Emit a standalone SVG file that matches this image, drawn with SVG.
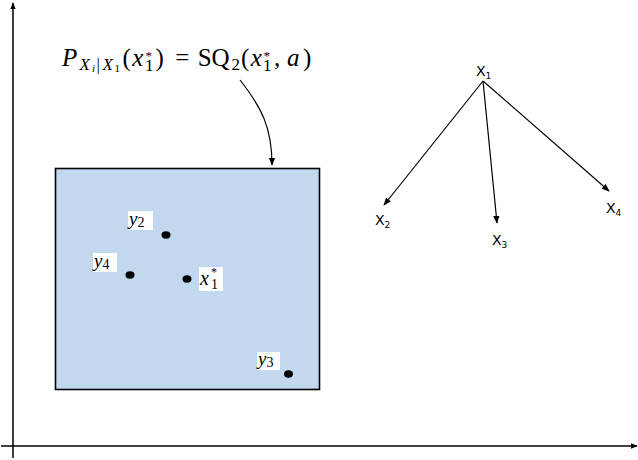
<svg xmlns="http://www.w3.org/2000/svg" width="638" height="460" viewBox="0 0 638 460">
<style>
.ax{stroke:#000;stroke-width:1.5;fill:none}
.edge{stroke:#000;stroke-width:1.2;fill:none}
.lbl{font-family:"DejaVu Sans",Verdana,sans-serif;font-size:14px;fill:#000}
.sub{font-size:9px}
.math{font-family:"Liberation Serif","DejaVu Serif",serif;fill:#000}
.m{font-size:25px}
.s{font-size:17px}
.st{font-size:13px}
.ss{font-size:11px}
.it{font-style:italic}
.box{fill:#fff}
.dot{fill:#000}
</style>
<defs>
<marker id="ah" viewBox="0 0 10 10" refX="9" refY="5" markerWidth="8" markerHeight="8" markerUnits="userSpaceOnUse" orient="auto">
<path d="M0,1 L10,5 L0,9 Z" fill="#000"/>
</marker>
<marker id="axh" viewBox="0 0 10 10" refX="9" refY="5" markerWidth="7" markerHeight="7" markerUnits="userSpaceOnUse" orient="auto">
<path d="M0,1 L10,5 L0,9 Z" fill="#000"/>
</marker>
</defs>
<g id="axes">
<line class="ax" x1="13" y1="458" x2="13" y2="3" marker-end="url(#axh)"/>
<line class="ax" x1="1" y1="446" x2="637" y2="446" marker-end="url(#axh)"/>
</g>
<g id="region">
<rect x="55.5" y="168.5" width="264" height="221" fill="#c2d8ee" stroke="#000" stroke-width="1.6"/>
</g>
<g id="formula" class="math">
<text class="m it" x="62" y="66">P</text>
<text class="s it" x="79.6" y="70">X</text>
<text class="ss it" x="91.9" y="72">i</text>
<text class="s" x="96.6" y="70">|</text>
<text class="s it" x="102.4" y="70">X</text>
<text class="ss" x="114.4" y="72">1</text>
<text class="m" x="122.5" y="66">(</text>
<text class="m it" x="132.3" y="66">x</text>
<text class="st" x="145.6" y="60">*</text>
<text class="s" x="145.1" y="71">1</text>
<text class="m" x="155.5" y="66">)</text>
<text class="m" x="175.3" y="66">=</text>
<text class="m" x="197.7" y="66">SQ</text>
<text class="s" x="231.4" y="70">2</text>
<text class="m" x="240.9" y="66">(</text>
<text class="m it" x="250.8" y="66">x</text>
<text class="st" x="263.5" y="60">*</text>
<text class="s" x="263" y="71">1</text>
<text class="m" x="274" y="66">,</text>
<text class="m it" x="287" y="66">a</text>
<text class="m" x="303" y="66">)</text>
</g>
<g id="points">
<g id="p-y2"><rect class="box" x="128" y="211" width="25" height="19"/><text class="math it" x="129" y="225" font-size="19">y<tspan font-style="normal" font-size="14" dy="2">2</tspan></text><ellipse class="dot" cx="166" cy="235" rx="4.5" ry="3.7"/></g>
<g id="p-y4"><rect class="box" x="93" y="253" width="24" height="19"/><text class="math it" x="94" y="267" font-size="19">y<tspan font-style="normal" font-size="14" dy="2">4</tspan></text><ellipse class="dot" cx="130" cy="275" rx="4.5" ry="3.7"/></g>
<g id="p-x1"><rect class="box" x="199" y="267" width="24" height="24"/><text class="math it" x="200" y="285" font-size="20">x</text><text class="math" x="211" y="276" font-size="12">*</text><text class="math" x="211" y="289" font-size="14">1</text><ellipse class="dot" cx="187" cy="279" rx="4.5" ry="3.7"/></g>
<g id="p-y3"><rect class="box" x="257" y="352" width="23" height="18"/><text class="math it" x="258" y="365" font-size="19">y<tspan font-style="normal" font-size="14" dy="2">3</tspan></text><ellipse class="dot" cx="288.5" cy="374" rx="4.5" ry="3.7"/></g>
</g>
<g id="tree">
<g id="n-x1"><text class="lbl" x="476" y="76">X<tspan class="sub" dy="3">1</tspan></text></g>
<g id="n-x2"><text class="lbl" x="375" y="225">X<tspan class="sub" dy="3">2</tspan></text></g>
<g id="n-x3"><text class="lbl" x="492" y="245">X<tspan class="sub" dy="3">3</tspan></text></g>
<g id="n-x4"><text class="lbl" x="606" y="213">X<tspan class="sub" dy="3">4</tspan></text></g>
</g>
<g id="connectors">
<path class="edge" d="M240,80 C262,108 272,128 272,165" marker-end="url(#ah)"/>
<line class="edge" x1="483" y1="81" x2="384" y2="205" marker-end="url(#ah)"/>
<line class="edge" x1="483" y1="81" x2="497" y2="223" marker-end="url(#ah)"/>
<line class="edge" x1="483" y1="81" x2="609" y2="191" marker-end="url(#ah)"/>
</g>
</svg>
